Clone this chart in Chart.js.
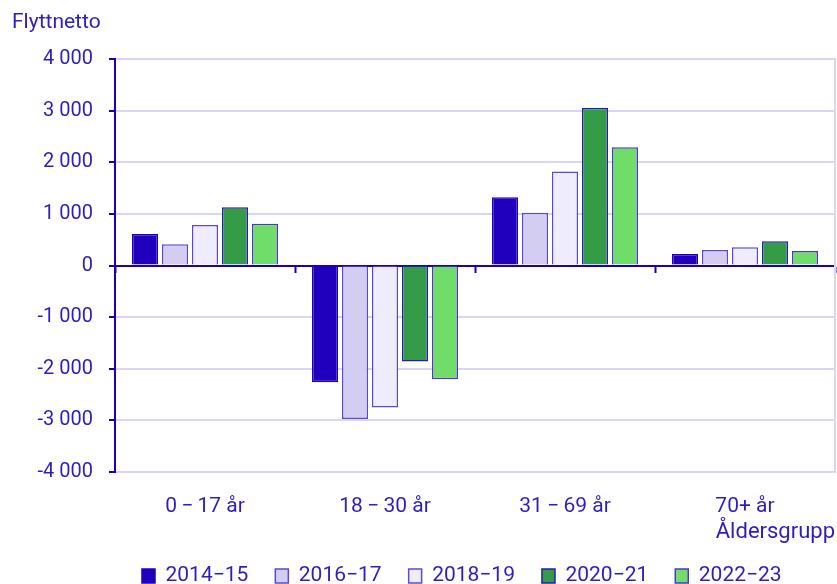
<!DOCTYPE html>
<html>
<head>
<meta charset="utf-8">
<script src="https://cdn.jsdelivr.net/npm/chart.js@4"></script>
<style>
  html, body { margin: 0; padding: 0; background: #ffffff; }
  #wrap { width: 837px; height: 584px; }
</style>
</head>
<body>
<div id="wrap"><canvas id="c" width="837" height="584"></canvas></div>
<script>
const categories = ['0\u2009\u2212\u200917 år', '18\u2009\u2212\u200930 år', '31\u2009\u2212\u200969 år', '70+ år'];
const seriesNames = ['2014\u221215', '2016\u221217', '2018\u221219', '2020\u221221', '2022\u221223'];
const v2014_15 = [610, -2260, 1320, 225];
const v2016_17 = [410, -2975, 1020, 300];
const v2018_19 = [785, -2750, 1820, 355];
const v2020_21 = [1130, -1860, 3055, 470];
const v2022_23 = [810, -2205, 2290, 280];
const yTickValues = [-4000, -3000, -2000, -1000, 0, 1000, 2000, 3000, 4000];
const yAxisTitle = 'Flyttnetto';
const xAxisTitle = 'Åldersgrupp';

const TEXT = '#2d1ec4';
const AXIS = '#1c00b8';
const GRID = '#d8d6f2';
const FONT = { family: 'Roboto', size: 21, weight: 'normal' };
const TICKFONT = { family: 'Roboto', size: 20, weight: 'normal' };
const XTITLEFONT = { family: 'Roboto', size: 22, weight: 'normal' };

const fills = ['#2000bd', '#d3cdf1', '#eeecfd', '#349b47', '#70dc6a'];
const borders = ['#2000bd', '#5c48d6', '#5c48d6', '#2a18bf', '#4b36d2'];
const values = [v2014_15, v2016_17, v2018_19, v2020_21, v2022_23];

function fmt(v) {
  const s = Math.abs(v).toString().replace(/\B(?=(\d{3})+(?!\d))/g, ' ');
  return (v < 0 ? '-' : '') + s;
}

new Chart(document.getElementById('c'), {
  type: 'bar',
  data: {
    labels: categories,
    datasets: seriesNames.map((name, i) => ({
      label: name,
      data: values[i],
      backgroundColor: fills[i],
      borderColor: borders[i],
      borderWidth: 1.5,
      xAxisID: 'x',
      yAxisID: 'y',
      categoryPercentage: 0.833,
      barPercentage: 0.87
    }))
  },
  options: {
    responsive: false,
    devicePixelRatio: 1,
    animation: false,
    layout: { padding: { left: 12, right: 2, top: 0, bottom: -12.5 } },
    plugins: {
      title: {
        display: true,
        text: yAxisTitle,
        align: 'start',
        color: TEXT,
        font: FONT,
        padding: { top: 10, bottom: 23.8 }
      },
      legend: {
        position: 'bottom',
        align: 'start',
        fullSize: false,
        labels: {
          color: TEXT,
          font: FONT,
          boxWidth: 13,
          boxHeight: 14,
          padding: 27
        }
      },
      tooltip: { enabled: false }
    },
    scales: {
      x: {
        position: 'bottom',
        offset: true,
        grid: { display: false },
        border: { display: false },
        ticks: { color: TEXT, font: FONT, padding: 14, maxRotation: 0 },
        afterFit: (scale) => { scale.height = 66.5; },
        title: {
          display: true,
          text: xAxisTitle,
          align: 'end',
          color: TEXT,
          font: XTITLEFONT,
          padding: { top: 7, bottom: -7 }
        }
      },
      x2: {
        type: 'category',
        position: { y: 0 },
        offset: true,
        grid: {
          display: true,
          offset: true,
          drawOnChartArea: false,
          drawTicks: true,
          tickLength: 6,
          tickColor: AXIS,
          tickWidth: 2
        },
        border: { display: true, color: AXIS, width: 2 },
        ticks: { display: false }
      },
      y: {
        position: 'left',
        min: -4000,
        max: 4000,
        afterBuildTicks: (scale) => { scale.ticks = yTickValues.map(v => ({ value: v })); },
        afterFit: (scale) => { scale.width = 103; },
        grid: {
          color: GRID,
          lineWidth: 2,
          tickColor: AXIS,
          tickWidth: 2,
          tickLength: 6
        },
        border: { display: true, color: AXIS, width: 2 },
        ticks: {
          color: TEXT,
          font: TICKFONT,
          padding: 16,
          callback: (v) => fmt(v)
        }
      },
      yr: {
        position: 'right',
        min: -4000,
        max: 4000,
        grid: { drawOnChartArea: false, drawTicks: false },
        border: { display: true, color: GRID, width: 2 },
        ticks: { display: false }
      }
    }
  }
});
</script>
</body>
</html>
